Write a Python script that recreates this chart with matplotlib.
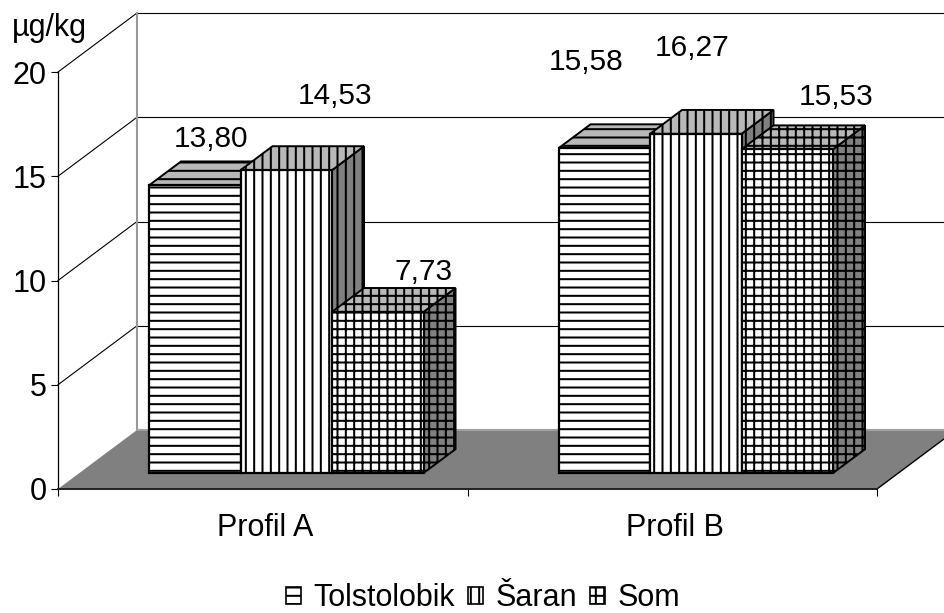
import numpy as np
from matplotlib import pyplot as plt
from matplotlib.patches import Patch, Polygon

plt.rcParams['font.family'] = ['Liberation Sans', 'DejaVu Sans']
plt.rcParams['hatch.linewidth'] = 1.45

# data
profiles = ['Profil A', 'Profil B']
species = ['Tolstolobik', 'Šaran', 'Som']
values_a = [13.80, 14.53, 7.73]
values_b = [15.58, 16.27, 15.53]
value_labels_a = ['13,80', '14,53', '7,73']
value_labels_b = ['15,58', '16,27', '15,53']
y_ticks = [0, 5, 10, 15, 20]

# styles
hatches = ['--', '||', '++']
# hand placed data label offsets (pixels from front top centre of the bar)
label_offsets = [(16, 46), (49, 74), (46, 40), (-18, 86), (-4, 86), (49, 52)]

W, H = 945, 613
fs = 22
fig = plt.figure(figsize=(W / 100, H / 100), dpi=100)
ax = fig.add_axes([58 / W, (H - 489) / H, (877 - 58) / W, (489 - 72) / H])
ax.set_xlim(-0.5, 1.5)
ax.set_ylim(0, 20)
ax.patch.set_alpha(0)

# pixels -> data units for the fake depth direction
kx = 79 * 2 / (877 - 58)
ky = 59 * 20 / (489 - 72)


def proj(x, y, d):
    return (x + d * kx, y + d * ky)


def poly(points, **kw):
    p = Polygon(points, closed=True, clip_on=False, **kw)
    ax.add_patch(p)


xmin, xmax = -0.5, 1.5
# floor
poly([proj(xmin, 0, 0), proj(xmin, 0, 1), proj(xmax, 0, 1), proj(xmax, 0, 0)],
     facecolor='#808080', edgecolor='none', zorder=1)
ax.plot(*zip(proj(xmax, 0, 0), proj(xmax, 0, 1)), color='black', lw=1, clip_on=False, zorder=1.5)
ax.plot(*zip(proj(xmin, 0, 1), proj(xmax, 0, 1)), color='#a0a0a0', lw=1.5, clip_on=False, zorder=1.5)

# walls
for v in y_ticks[1:]:
    ax.plot(*zip(proj(xmin, v, 0), proj(xmin, v, 1)), color='black', lw=0.8, clip_on=False, zorder=1)
    ax.plot(*zip(proj(xmin, v, 1), proj(xmax, v, 1)), color='black', lw=0.8, clip_on=False, zorder=1)
ax.plot(*zip(proj(xmin, 0, 1), proj(xmin, 20, 1)), color='#999999', lw=1.5, clip_on=False, zorder=1)

# bars
bar_w = 91.5 * 2 / (877 - 58)
bar_shift = 2.2 * 2 / (877 - 58)
front = 0.27
back = 0.675
all_values = [values_a, values_b]
all_labels = [value_labels_a, value_labels_b]
n = 0
z = 2
for i, vals in enumerate(all_values):
    for j, v in enumerate(vals):
        xc = i + (j - 1) * bar_w + bar_shift
        x0 = xc - bar_w / 2
        x1 = xc + bar_w / 2
        # side
        poly([proj(x1, 0, front), proj(x1, 0, back), proj(x1, v, back), proj(x1, v, front)],
             facecolor='#808080', edgecolor='black', hatch=hatches[j], lw=1.4, zorder=z)
        # top
        poly([proj(x0, v, front), proj(x0, v, back), proj(x1, v, back), proj(x1, v, front)],
             facecolor='#b8b8b8', edgecolor='black', hatch=hatches[j], lw=1.4, zorder=z)
        # front
        fx, fy = proj(xc, 0, front)
        ax.bar(fx, v, bottom=fy, width=bar_w, facecolor='white', edgecolor='black',
               hatch=hatches[j], linewidth=1.6, zorder=z + 0.5, clip_on=False)
        ax.annotate(all_labels[i][j], (fx, fy + v),
                    xytext=(label_offsets[n][0] * 0.72, label_offsets[n][1] * 0.72),
                    textcoords='offset points', ha='center', va='center', fontsize=21.5, zorder=10)
        n += 1
        z += 1

# axes
for s in ['top', 'right']:
    ax.spines[s].set_visible(False)
ax.spines['left'].set_linewidth(0.9)
ax.spines['left'].set_zorder(9)
ax.spines['bottom'].set_linewidth(1.4)
ax.spines['bottom'].set_color('#222222')
ax.spines['bottom'].set_zorder(9)
ax.set_yticks(y_ticks)
ax.tick_params(axis='y', length=5, width=0.8, labelsize=fs, pad=3)
ax.set_xticks([-0.5, 0.5, 1.5])
ax.set_xticklabels([])
ax.tick_params(axis='x', which='major', length=5, width=0.8)
ax.set_xticks([0.006, 1.006], labels=profiles, minor=True)
ax.tick_params(axis='x', which='minor', length=0, labelsize=fs, pad=17)

fig.text(12 / W, 1 - 28 / H, 'µg/kg', fontsize=fs, ha='left', va='center')

handles = [Patch(facecolor='white', edgecolor='black', hatch=h, lw=1.2) for h in hatches]
fig.legend(handles, species, loc='center', bbox_to_anchor=(483 / W, 1 - 598.5 / H), ncol=3,
           frameon=False, fontsize=fs, handlelength=0.5, handleheight=0.5,
           handletextpad=0.4, columnspacing=0.43, borderpad=0)

plt.savefig('out.png', dpi=100)
